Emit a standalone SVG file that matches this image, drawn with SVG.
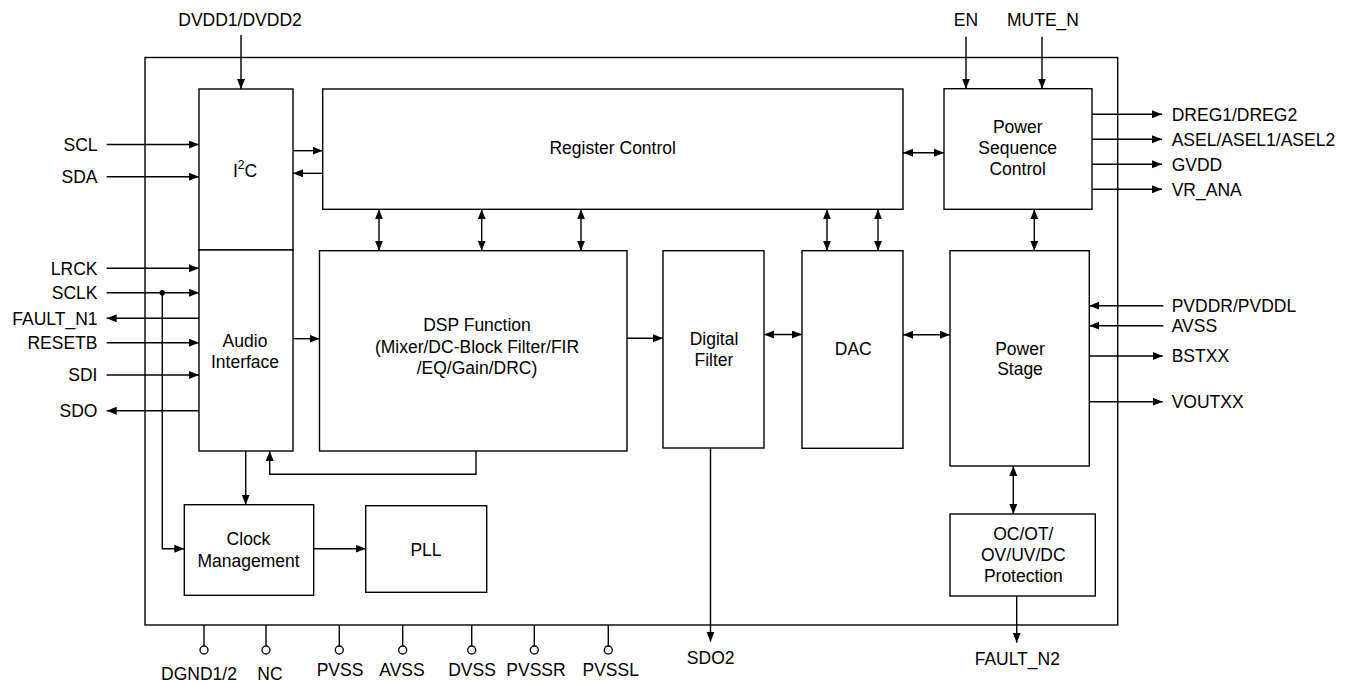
<svg xmlns="http://www.w3.org/2000/svg" width="1356" height="684" viewBox="0 0 1356 684">
<style>
.box{fill:#fff;stroke:#000;stroke-width:1.4}
.ln{fill:none;stroke:#000;stroke-width:1.4}
.a{marker-end:url(#ah)}
.b{marker-start:url(#ah);marker-end:url(#ah)}
text{font-family:"Liberation Sans",Arial,sans-serif;font-size:17.5px;fill:#000}
.c{text-anchor:middle}
.r{text-anchor:end}
.pin{fill:#fff;stroke:#000;stroke-width:1.3}
</style>
<defs>
<marker id="ah" markerUnits="userSpaceOnUse" markerWidth="11" markerHeight="9" refX="10" refY="4" orient="auto-start-reverse">
<path d="M0,0 L10,4 L0,8 z" fill="#000"/>
</marker>
</defs>
<rect id="chip" x="145" y="57.5" width="972.7" height="567.5" class="box" fill="none"/>

<g id="i2c"><rect class="box" x="199" y="89" width="94" height="161"/><text class="c" x="245" y="177">I<tspan dy="-8" font-size="12">2</tspan><tspan dy="8">C</tspan></text></g>
<g id="audio"><rect class="box" x="199" y="250" width="94" height="201"/><text class="c" x="245" y="347">Audio</text><text class="c" x="245" y="367.5">Interface</text></g>
<g id="reg"><rect class="box" x="322.7" y="89" width="580.3" height="120.3"/><text class="c" x="612.7" y="154">Register Control</text></g>
<g id="psc"><rect class="box" x="944" y="88.7" width="148" height="120.6"/><text class="c" x="1017.7" y="133">Power</text><text class="c" x="1017.7" y="154">Sequence</text><text class="c" x="1017.7" y="175">Control</text></g>
<g id="dsp"><rect class="box" x="319.5" y="250.7" width="307.5" height="200.3"/><text class="c" x="477" y="331">DSP Function</text><text class="c" x="477" y="352.5">(Mixer/DC-Block Filter/FIR</text><text class="c" x="477" y="374">/EQ/Gain/DRC)</text></g>
<g id="dfilter"><rect class="box" x="663" y="250.7" width="101" height="197.3"/><text class="c" x="714" y="344.5">Digital</text><text class="c" x="714" y="366">Filter</text></g>
<g id="dac"><rect class="box" x="802" y="250.7" width="101" height="197.6"/><text class="c" x="853.3" y="355">DAC</text></g>
<g id="pstage"><rect class="box" x="950" y="250.7" width="139.3" height="215.3"/><text class="c" x="1020" y="354.5">Power</text><text class="c" x="1020" y="375">Stage</text></g>
<g id="prot"><rect class="box" x="950" y="514" width="145.3" height="82"/><text class="c" x="1023.3" y="540">OC/OT/</text><text class="c" x="1023.3" y="561">OV/UV/DC</text><text class="c" x="1023.3" y="582">Protection</text></g>
<g id="clock"><rect class="box" x="184.3" y="504.7" width="129.4" height="90.6"/><text class="c" x="248.5" y="545">Clock</text><text class="c" x="248.5" y="566.5">Management</text></g>
<g id="pll"><rect class="box" x="365.7" y="505.7" width="121" height="86.6"/><text class="c" x="426" y="555.5">PLL</text></g>

<g id="connectors">
<line class="ln a" x1="241" y1="35" x2="241" y2="89"/>
<line class="ln a" x1="966" y1="36.7" x2="966" y2="88.7"/>
<line class="ln a" x1="1042" y1="36.7" x2="1042" y2="88.7"/>
<line class="ln a" x1="106.7" y1="144.5" x2="199" y2="144.5"/>
<line class="ln a" x1="106.7" y1="176.7" x2="199" y2="176.7"/>
<line class="ln a" x1="293" y1="150.7" x2="322.7" y2="150.7"/>
<line class="ln a" x1="322.7" y1="173.3" x2="293" y2="173.3"/>
<line class="ln b" x1="903" y1="152.7" x2="944" y2="152.7"/>
<line class="ln a" x1="1092" y1="114.3" x2="1162" y2="114.3"/>
<line class="ln a" x1="1092" y1="139.3" x2="1162" y2="139.3"/>
<line class="ln a" x1="1092" y1="164.3" x2="1162" y2="164.3"/>
<line class="ln a" x1="1092" y1="189.3" x2="1162" y2="189.3"/>
<line class="ln b" x1="1034.3" y1="209.3" x2="1034.3" y2="250.7"/>
<line class="ln b" x1="379" y1="209.3" x2="379" y2="250.7"/>
<line class="ln b" x1="481.7" y1="209.3" x2="481.7" y2="250.7"/>
<line class="ln b" x1="581" y1="209.3" x2="581" y2="250.7"/>
<line class="ln b" x1="827" y1="209.3" x2="827" y2="250.7"/>
<line class="ln b" x1="878" y1="209.3" x2="878" y2="250.7"/>
<line class="ln a" x1="106.7" y1="268.3" x2="199" y2="268.3"/>
<line class="ln a" x1="106.7" y1="292.7" x2="199" y2="292.7"/>
<line class="ln a" x1="199" y1="318.3" x2="106.7" y2="318.3"/>
<line class="ln a" x1="106.7" y1="342.7" x2="199" y2="342.7"/>
<line class="ln a" x1="106.7" y1="375" x2="199" y2="375"/>
<line class="ln a" x1="199" y1="410.7" x2="106.7" y2="410.7"/>
<circle cx="162.3" cy="292.7" r="2.8" fill="#000"/>
<path class="ln a" d="M162.3,292.7 V548.7 H184.3"/>
<line class="ln a" x1="293" y1="338.7" x2="319.5" y2="338.7"/>
<line class="ln a" x1="627" y1="338.3" x2="663" y2="338.3"/>
<line class="ln b" x1="764" y1="334.5" x2="802" y2="334.5"/>
<line class="ln b" x1="903" y1="334.7" x2="950" y2="334.7"/>
<line class="ln a" x1="1163.3" y1="305.7" x2="1089.3" y2="305.7"/>
<line class="ln a" x1="1163.3" y1="325.7" x2="1089.3" y2="325.7"/>
<line class="ln a" x1="1089.3" y1="356" x2="1162.7" y2="356"/>
<line class="ln a" x1="1089.3" y1="401.7" x2="1162.7" y2="401.7"/>
<line class="ln b" x1="1013.3" y1="466" x2="1013.3" y2="514"/>
<line class="ln a" x1="1016.7" y1="596" x2="1016.7" y2="642.7"/>
<line class="ln a" x1="710.5" y1="448" x2="710.5" y2="641.7"/>
<line class="ln a" x1="245.7" y1="451" x2="245.7" y2="504.7"/>
<path class="ln a" d="M476,451 V474.3 H269.7 V451"/>
<line class="ln a" x1="313.7" y1="548.7" x2="365.7" y2="548.7"/>
<g id="pins">
<path class="ln" d="M204,625 V646 M266,625 V646 M339.3,625 V646 M402.7,625 V646 M471.7,625 V646 M534.3,625 V646 M608.3,625 V646"/>
<circle class="pin" cx="204" cy="650" r="4"/>
<circle class="pin" cx="266" cy="650" r="4"/>
<circle class="pin" cx="339.3" cy="650" r="4"/>
<circle class="pin" cx="402.7" cy="650" r="4"/>
<circle class="pin" cx="471.7" cy="650" r="4"/>
<circle class="pin" cx="534.3" cy="650" r="4"/>
<circle class="pin" cx="608.3" cy="650" r="4"/>
</g>
</g>

<g id="labels">
<text class="c" x="240" y="26.3">DVDD1/DVDD2</text>
<text class="c" x="966" y="26.3">EN</text>
<text class="c" x="1043" y="26.3">MUTE_N</text>
<text class="r" x="97.5" y="150.8">SCL</text>
<text class="r" x="97.5" y="183">SDA</text>
<text class="r" x="97.5" y="274.6">LRCK</text>
<text class="r" x="97.5" y="299">SCLK</text>
<text class="r" x="97.5" y="324.6">FAULT_N1</text>
<text class="r" x="97.5" y="349">RESETB</text>
<text class="r" x="97.5" y="381.3">SDI</text>
<text class="r" x="97.5" y="417">SDO</text>
<text x="1171.7" y="120.6">DREG1/DREG2</text>
<text x="1171.7" y="145.6">ASEL/ASEL1/ASEL2</text>
<text x="1171.7" y="170.6">GVDD</text>
<text x="1171.7" y="195.6">VR_ANA</text>
<text x="1171.7" y="312">PVDDR/PVDDL</text>
<text x="1171.7" y="331.8">AVSS</text>
<text x="1171.7" y="362.3">BSTXX</text>
<text x="1171.7" y="408">VOUTXX</text>
<text class="c" x="199" y="679.6">DGND1/2</text>
<text class="c" x="270" y="679.6">NC</text>
<text class="c" x="340" y="676.3">PVSS</text>
<text class="c" x="402" y="676.3">AVSS</text>
<text class="c" x="472" y="676.3">DVSS</text>
<text class="c" x="536" y="676.3">PVSSR</text>
<text class="c" x="610.7" y="676.3">PVSSL</text>
<text class="c" x="710.7" y="663.5">SDO2</text>
<text class="c" x="1017.3" y="664.6">FAULT_N2</text>
</g>
</svg>
